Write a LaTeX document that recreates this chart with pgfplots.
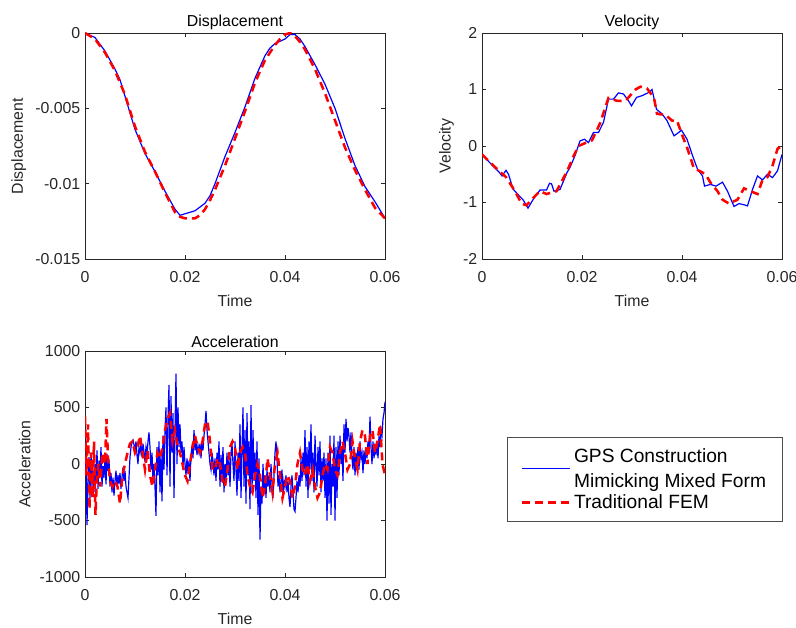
\documentclass[border=0pt]{standalone}
\usepackage{fontspec}
\setmainfont{Liberation Sans}
\usepackage{pgfplots}
\pgfplotsset{compat=1.18}
\definecolor{axgray}{gray}{0.15}

% displacement
\pgfplotstableread{
t u
0 0
0.002 -0.0003
0.004 -0.0012
0.006 -0.0024
0.007 -0.0031
0.008 -0.0042
0.010 -0.0064
0.012 -0.0080
0.014 -0.0092
0.016 -0.0105
0.018 -0.0117
0.019 -0.0121
0.020 -0.0120
0.022 -0.0118
0.024 -0.0113
0.025 -0.0108
0.026 -0.0100
0.028 -0.0082
0.030 -0.0066
0.032 -0.0049
0.034 -0.0030
0.036 -0.0015
0.037 -0.0010
0.038 -0.0007
0.040 -0.0004
0.041 -0.0001
0.042 -0.0001
0.043 -0.0004
0.044 -0.0009
0.046 -0.0021
0.048 -0.0034
0.050 -0.0050
0.052 -0.0070
0.054 -0.0088
0.056 -0.0102
0.058 -0.0112
0.060 -0.0123
}\dispgps
\pgfplotstableread{
t u
0 0
0.002 -0.0004
0.004 -0.0013
0.006 -0.0025
0.008 -0.0041
0.010 -0.0062
0.012 -0.0079
0.014 -0.0092
0.016 -0.0106
0.018 -0.0119
0.019 -0.0122
0.020 -0.0123
0.021 -0.0123
0.022 -0.0123
0.023 -0.0121
0.024 -0.0117
0.025 -0.0111
0.026 -0.0104
0.028 -0.0088
0.030 -0.0070
0.032 -0.0052
0.034 -0.0033
0.036 -0.0018
0.038 -0.0008
0.039 -0.0004
0.040 -0.0001
0.041 0.0000
0.042 -0.0002
0.043 -0.0006
0.044 -0.0011
0.046 -0.0024
0.048 -0.0040
0.050 -0.0058
0.052 -0.0076
0.054 -0.0091
0.056 -0.0104
0.058 -0.0116
0.060 -0.0123
}\dispfem

% velocity
\pgfplotstableread{
t v
0 -0.15
0.0015 -0.29
0.0035 -0.47
0.0040 -0.53
0.0048 -0.43
0.0053 -0.50
0.0062 -0.76
0.0072 -0.86
0.0082 -0.95
0.0092 -1.10
0.0102 -0.95
0.0116 -0.78
0.0129 -0.78
0.0135 -0.66
0.0139 -0.67
0.0144 -0.80
0.0156 -0.77
0.0170 -0.47
0.0176 -0.38
0.0186 -0.17
0.0196 0.09
0.0205 0.12
0.0213 0.06
0.0223 0.24
0.0233 0.24
0.0243 0.42
0.0253 0.83
0.0263 0.83
0.0273 0.94
0.0283 0.92
0.0293 0.80
0.0299 0.71
0.0309 0.86
0.0320 0.89
0.0334 0.95
0.0340 1.00
0.0349 0.65
0.0360 0.57
0.0370 0.45
0.0384 0.18
0.0392 0.23
0.0399 0.28
0.0410 0.12
0.0421 -0.17
0.0431 -0.41
0.0441 -0.53
0.0445 -0.71
0.0457 -0.68
0.0468 -0.71
0.0481 -0.64
0.0491 -0.80
0.0504 -1.07
0.0514 -1.02
0.0524 -1.04
0.0531 -1.06
0.0541 -0.77
0.0551 -0.53
0.0561 -0.60
0.0571 -0.50
0.0581 -0.56
0.0591 -0.44
0.0600 -0.15
}\velgps
\pgfplotstableread{
t v
0 -0.15
0.0035 -0.45
0.0048 -0.55
0.0066 -0.80
0.0079 -1.02
0.0089 -1.05
0.0099 -0.95
0.0116 -0.80
0.0129 -0.85
0.0149 -0.80
0.0170 -0.45
0.0183 -0.18
0.0193 0.00
0.0206 0.05
0.0220 0.10
0.0236 0.40
0.0253 0.85
0.0270 0.80
0.0287 0.80
0.0297 0.90
0.0307 1.00
0.0317 1.05
0.0330 1.02
0.0344 0.85
0.0350 0.57
0.0367 0.55
0.0380 0.45
0.0390 0.45
0.0400 0.20
0.0411 -0.05
0.0424 -0.40
0.0437 -0.45
0.0447 -0.50
0.0457 -0.65
0.0471 -0.80
0.0481 -0.95
0.0494 -1.02
0.0511 -0.95
0.0524 -0.75
0.0537 -0.80
0.0551 -0.85
0.0561 -0.60
0.0571 -0.55
0.0581 -0.35
0.0591 -0.05
0.0600 0.00
}\velfem

% acceleration
\pgfplotstableread{
t a
0.0000 -100
0.0002 80
0.0004 -540
0.0006 -150
0.0008 60
0.0010 -300
0.0012 100
0.0014 -200
0.0016 -50
0.0018 -250
0.0020 0
0.0022 -150
0.0024 120
0.0026 -220
0.0028 30
0.0030 -100
0.0032 150
0.0034 -200
0.0036 -20
0.0038 -120
0.0040 50
0.0042 -180
0.0044 90
0.0046 -60
0.0048 40
0.0050 -200
0.0052 -80
0.0054 -250
0.0056 -120
0.0058 -280
0.0060 -150
0.0062 -60
0.0064 -200
0.0066 -100
0.0068 -180
0.0070 -80
0.0072 -220
0.0074 -120
0.0076 -30
0.0078 -150
0.0080 -60
0.0082 -200
0.0084 -250
0.0086 -300
0.0088 -120
0.0090 60
0.0092 150
0.0094 190
0.0096 210
0.0098 170
0.0100 120
0.0102 200
0.0104 80
0.0106 0
0.0108 150
0.0110 100
0.0112 170
0.0114 60
0.0116 180
0.0118 110
0.0120 20
0.0122 150
0.0124 90
0.0126 200
0.0128 280
0.0130 150
0.0132 -50
0.0134 100
0.0136 -150
0.0138 0
0.0140 -200
0.0142 -460
0.0144 150
0.0146 -100
0.0148 200
0.0150 -250
0.0152 100
0.0154 -330
0.0156 250
0.0158 -50
0.0160 300
0.0162 500
0.0164 -100
0.0166 400
0.0168 700
0.0170 -200
0.0172 600
0.0174 100
0.0176 450
0.0178 -300
0.0180 300
0.0182 800
0.0184 0
0.0186 500
0.0188 150
0.0190 350
0.0192 100
0.0194 200
0.0196 -50
0.0198 150
0.0200 0
0.0202 -100
0.0204 50
0.0206 -80
0.0208 30
0.0210 -150
0.0212 80
0.0214 150
0.0216 50
0.0218 300
0.0220 120
0.0222 200
0.0224 80
0.0226 160
0.0228 100
0.0230 180
0.0232 50
0.0234 200
0.0236 120
0.0238 250
0.0240 350
0.0242 470
0.0244 300
0.0246 200
0.0248 100
0.0250 0
0.0252 -50
0.0254 100
0.0256 30
0.0258 -100
0.0260 50
0.0262 -150
0.0264 100
0.0266 -50
0.0268 200
0.0270 -200
0.0272 80
0.0274 -100
0.0276 150
0.0278 -250
0.0280 0
0.0282 -150
0.0284 100
0.0286 -100
0.0288 50
0.0290 -200
0.0292 100
0.0294 180
0.0296 0
0.0298 -150
0.0300 200
0.0302 -50
0.0304 -280
0.0306 100
0.0308 -150
0.0310 350
0.0312 -300
0.0314 100
0.0316 500
0.0318 -200
0.0320 300
0.0322 -350
0.0324 450
0.0326 -100
0.0328 200
0.0330 -400
0.0332 520
0.0334 -250
0.0336 300
0.0338 -150
0.0340 100
0.0342 -300
0.0344 200
0.0346 -450
0.0348 50
0.0350 -670
0.0352 -200
0.0354 -350
0.0356 0
0.0358 -250
0.0360 -100
0.0362 -300
0.0364 -50
0.0366 -200
0.0368 -100
0.0370 -250
0.0372 0
0.0374 -180
0.0376 -300
0.0378 -100
0.0380 100
0.0382 200
0.0384 50
0.0386 -200
0.0388 -100
0.0390 -250
0.0392 -150
0.0394 -50
0.0396 -300
0.0398 -150
0.0400 -200
0.0402 -100
0.0404 -250
0.0406 -150
0.0408 -300
0.0410 -380
0.0412 -200
0.0414 -100
0.0416 -250
0.0418 -400
0.0420 -420
0.0422 -300
0.0424 -150
0.0426 -250
0.0428 -100
0.0430 -200
0.0432 50
0.0434 -150
0.0436 100
0.0438 -100
0.0440 300
0.0442 -200
0.0444 150
0.0446 -300
0.0448 200
0.0450 -50
0.0452 350
0.0454 -150
0.0456 100
0.0458 -250
0.0460 250
0.0462 0
0.0464 -200
0.0466 150
0.0468 -100
0.0470 200
0.0472 -250
0.0474 50
0.0476 -150
0.0478 100
0.0480 -300
0.0482 50
0.0484 -500
0.0486 100
0.0488 -350
0.0490 250
0.0492 -450
0.0494 0
0.0496 -200
0.0498 250
0.0500 -500
0.0502 150
0.0504 -300
0.0506 200
0.0508 -100
0.0510 250
0.0512 0
0.0514 150
0.0516 -150
0.0518 350
0.0520 100
0.0522 400
0.0524 200
0.0526 320
0.0528 250
0.0530 100
0.0532 280
0.0534 50
0.0536 -50
0.0538 150
0.0540 -100
0.0542 100
0.0544 0
0.0546 150
0.0548 -50
0.0550 200
0.0552 50
0.0554 100
0.0556 -80
0.0558 120
0.0560 0
0.0562 150
0.0564 50
0.0566 200
0.0568 100
0.0570 420
0.0572 150
0.0574 0
0.0576 200
0.0578 50
0.0580 150
0.0582 80
0.0584 200
0.0586 50
0.0588 250
0.0590 150
0.0592 300
0.0594 250
0.0596 400
0.0598 450
0.0600 550
}\accgps
\pgfplotstableread{
t a
0.0000 420
0.0003 -100
0.0006 350
0.0009 -400
0.0012 100
0.0015 -300
0.0018 200
0.0021 -450
0.0024 -100
0.0027 0
0.0030 -200
0.0035 100
0.0040 0
0.0043 400
0.0046 50
0.0050 -150
0.0055 -200
0.0060 -150
0.0065 -200
0.0070 -350
0.0075 -100
0.0080 0
0.0085 100
0.0090 180
0.0095 200
0.0100 100
0.0105 150
0.0110 250
0.0115 100
0.0120 -50
0.0125 120
0.0130 -100
0.0135 -200
0.0140 -50
0.0145 100
0.0150 50
0.0155 150
0.0160 300
0.0165 400
0.0170 450
0.0175 200
0.0180 300
0.0185 150
0.0190 100
0.0195 0
0.0200 -100
0.0205 -150
0.0210 0
0.0215 150
0.0220 250
0.0225 150
0.0230 100
0.0235 200
0.0240 350
0.0245 380
0.0250 200
0.0255 -50
0.0260 -50
0.0265 50
0.0270 0
0.0275 -150
0.0280 -200
0.0285 -50
0.0290 150
0.0295 200
0.0300 150
0.0305 -50
0.0310 100
0.0315 150
0.0320 100
0.0325 -100
0.0330 -200
0.0335 -250
0.0340 -100
0.0345 0
0.0350 -100
0.0355 -300
0.0360 -200
0.0365 50
0.0370 -100
0.0375 -250
0.0380 0
0.0385 100
0.0390 -100
0.0395 -300
0.0400 -200
0.0405 -100
0.0410 -150
0.0415 -300
0.0420 -200
0.0425 0
0.0430 100
0.0435 -50
0.0440 -100
0.0445 0
0.0450 -150
0.0455 -50
0.0460 -200
0.0465 -300
0.0470 -250
0.0475 -100
0.0480 0
0.0485 -50
0.0490 150
0.0495 100
0.0500 -50
0.0505 -100
0.0510 100
0.0515 200
0.0520 100
0.0525 -50
0.0530 0
0.0535 200
0.0540 50
0.0545 -50
0.0550 200
0.0555 300
0.0560 250
0.0565 0
0.0570 250
0.0575 300
0.0580 100
0.0585 200
0.0590 350
0.0595 0
0.0600 -100
}\accfem

\pgfplotsset{
  mfig/.style={
    scale only axis,
    width=225pt, height=169.5pt,
    anchor=south west,
    xmin=0, xmax=0.06,
    xtick={0,0.02,0.04,0.06},
    xticklabels={0,0.02,0.04,0.06},
    scaled ticks=false,
    tick align=inside, tick pos=both,
    major tick length=3pt,
    axis line style={axgray},
    tick style={axgray, line width=0.5pt},
    every tick label/.append style={font=\fontsize{11.9}{14}\selectfont, text=axgray},
    xticklabel style={yshift=-6pt},
    label style={font=\fontsize{11.9}{14}\selectfont, text=axgray},
    xlabel style={at={(axis description cs:0.5,0)}, anchor=center, yshift=-31.5pt},
    title style={font=\fontsize{11.9}{14}\selectfont, text=black, yshift=-7pt},
    xlabel={Time},
    /pgf/number format/assume math mode=true,
  },
  gps/.style={blue, line width=0.9pt, no marks},
  fem/.style={red, line width=1.9pt, dash pattern=on 6pt off 3.8pt, no marks},
}

\begin{document}
\begin{tikzpicture}
\useasboundingbox (0,0) rectangle (597pt,471pt);

\begin{axis}[mfig, at={(63.75pt,276.75pt)},
  title={Displacement}, ylabel={Displacement},
  ymin=-0.015, ymax=0,
  ytick={-0.015,-0.01,-0.005,0},
  yticklabels={-0.015,-0.01,-0.005,0}]
\addplot[gps] table[x=t, y=u] {\dispgps};
\addplot[fem] table[x=t, y=u] {\dispfem};
\end{axis}

\begin{axis}[mfig, at={(361.5pt,276.75pt)},
  title={Velocity}, ylabel={Velocity},
  ymin=-2, ymax=2,
  ytick={-2,-1,0,1,2},
  yticklabels={-2,-1,0,1,2}]
\addplot[gps] table[x=t, y=v] {\velgps};
\addplot[fem] table[x=t, y=v] {\velfem};
\end{axis}

\begin{axis}[mfig, at={(63.75pt,38.25pt)},
  title={Acceleration}, ylabel={Acceleration},
  ymin=-1000, ymax=1000,
  ytick={-1000,-500,0,500,1000},
  yticklabels={-1000,-500,0,500,1000},
  legend style={at={(1.407,0.619)}, anchor=north west,
    draw=black!70, line width=0.6pt, inner xsep=10pt, inner ysep=6pt,
    font=\fontsize{14.4}{18.75}\selectfont,
    cells={anchor=west, align=left}},
  legend image code/.code={\draw[#1] (0pt,0pt) -- (36pt,0pt);}]
\addplot[gps] table[x=t, y=a] {\accgps};
\addlegendentry{GPS Construction\\Mimicking Mixed Form}
\addplot[fem] table[x=t, y=a] {\accfem};
\addlegendentry{Traditional FEM}
\end{axis}
\end{tikzpicture}
\end{document}
